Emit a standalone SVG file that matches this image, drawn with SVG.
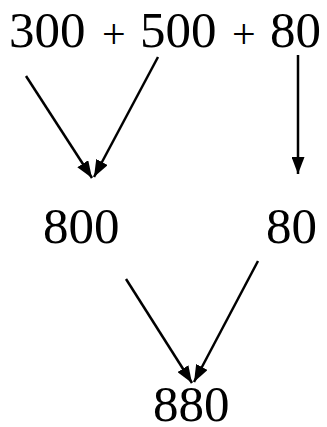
<svg xmlns="http://www.w3.org/2000/svg" width="327" height="427" viewBox="0 0 327 427">
<style>
.t{font-family:"Liberation Serif","Times New Roman",serif;font-size:51px;fill:#000}
.p{font-family:"Liberation Serif","Times New Roman",serif;font-size:42px;fill:#000}
.c line{stroke:#000;stroke-width:2.5;fill:none}
</style>
<defs>
<marker id="ah" viewBox="0 0 17 13" refX="17" refY="6.5" markerWidth="17" markerHeight="13" markerUnits="userSpaceOnUse" orient="auto">
<path d="M0,0 L17,6.5 L0,13 Z" fill="#000"/>
</marker>
</defs>
<rect width="327" height="427" fill="#fff"/>
<g id="top">
<text class="t" x="9" y="47">300</text>
<text class="p" x="102" y="48">+</text>
<text class="t" x="140" y="47">500</text>
<text class="p" x="232" y="48">+</text>
<text class="t" x="270" y="47">80</text>
</g>
<g id="n800"><text class="t" x="43" y="243">800</text></g>
<g id="n80"><text class="t" x="266" y="243">80</text></g>
<g id="n880"><text class="t" x="153" y="421">880</text></g>
<g class="c">
<line x1="26" y1="76" x2="92" y2="178" marker-end="url(#ah)"/>
<line x1="158" y1="57" x2="94" y2="177" marker-end="url(#ah)"/>
<line x1="298" y1="55" x2="298" y2="174" marker-end="url(#ah)"/>
<line x1="126" y1="279" x2="192" y2="383" marker-end="url(#ah)"/>
<line x1="258" y1="261" x2="194" y2="382" marker-end="url(#ah)"/>
</g>
</svg>
